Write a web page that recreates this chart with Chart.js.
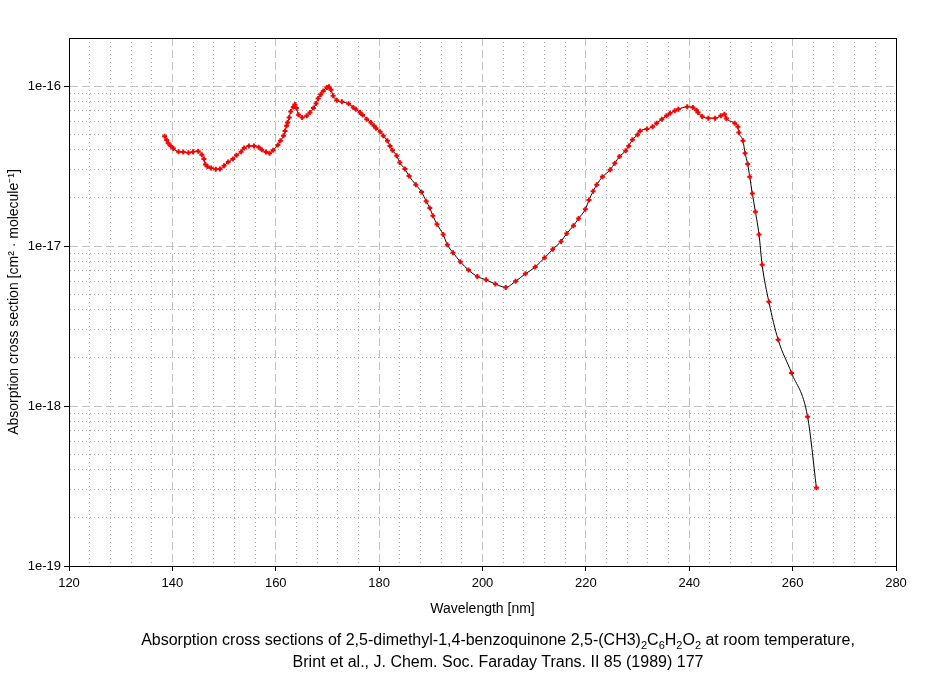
<!DOCTYPE html>
<html>
<head>
<meta charset="utf-8">
<title>2,5-dimethyl-1,4-benzoquinone cross sections</title>
<script src="https://cdn.jsdelivr.net/npm/chart.js@4.4.0/dist/chart.umd.min.js"></script>
<style>
  body { margin: 0; background: #fff; }
  #wrap { position: relative; width: 934px; height: 673px; }
  #caption {
    position: absolute; top: 629px; left: 498px; transform: translateX(-50%);
    white-space: nowrap; text-align: center; color: #000;
    font: 16px "Liberation Sans", Arial, sans-serif; line-height: 22px;
  }
  #caption sub { font-size: 11px; line-height: 0; }
</style>
</head>
<body>
<div id="wrap">
  <canvas id="myChart" width="934" height="673"></canvas>
  <div id="caption">
    Absorption cross sections of 2,5-dimethyl-1,4-benzoquinone 2,5-(CH3)<sub>2</sub>C<sub>6</sub>H<sub>2</sub>O<sub>2</sub> at room temperature,<br>
    Brint et al., J. Chem. Soc. Faraday Trans. II 85 (1989) 177
  </div>
</div>
<script>
// wavelength in nm
const wavelength = [
  138.5, 138.9, 139.2, 139.7, 140.2, 141.2, 142.1, 143.1, 144.0, 145.0,
  145.7, 146.1, 146.4, 146.8, 147.5, 148.4, 149.2, 150.0, 150.8, 151.7,
  152.4, 153.3, 153.9, 154.8, 155.8, 156.7, 157.3, 158.1, 158.8, 159.5,
  160.4, 160.9, 161.5, 161.8, 162.1, 162.3, 162.6, 162.9, 163.4, 163.7,
  164.0, 164.4, 165.1, 166.0, 166.6, 167.3, 167.8, 168.2, 168.7, 169.2,
  169.9, 170.3, 170.7, 171.1, 171.8, 172.8, 174.1, 175.0, 175.5, 176.3,
  176.8, 177.6, 178.4, 179.0, 179.4, 180.2, 180.8, 181.6, 182.1, 182.6,
  183.4, 184.0, 185.0, 185.8, 187.1, 188.2, 189.1, 189.8, 190.4, 191.2,
  192.4, 193.2, 194.3, 195.7, 197.3, 199.0, 200.7, 202.5, 204.5, 206.4,
  208.3, 210.2, 212.0, 213.6, 215.2, 216.3, 217.6, 218.6, 219.9, 220.6,
  221.4, 222.1, 223.2, 224.7, 225.6, 226.5, 227.7, 228.3, 229.0, 230.0,
  230.5, 231.8, 232.9, 233.7, 234.7, 235.6, 236.3, 237.2, 237.9, 239.6,
  240.7, 241.4, 241.7, 242.5, 243.7, 245.0, 246.1, 246.8, 247.2, 248.8,
  249.4, 249.6, 250.4, 250.8, 251.3, 251.7, 252.2, 252.8, 253.5, 254.1,
  255.4, 257.2, 259.8, 262.9, 264.6
]

// cross section in cm^2 molecule^-1
const crossSection = [
  4.87e-17, 4.6e-17, 4.4e-17, 4.23e-17, 4.07e-17, 3.89e-17, 3.88e-17, 3.83e-17, 3.89e-17, 3.92e-17,
  3.72e-17, 3.5e-17, 3.24e-17, 3.15e-17, 3.08e-17, 3.02e-17, 3.03e-17, 3.18e-17, 3.35e-17, 3.5e-17,
  3.7e-17, 3.89e-17, 4.1e-17, 4.23e-17, 4.23e-17, 4.15e-17, 4.0e-17, 3.87e-17, 3.8e-17, 3.98e-17,
  4.28e-17, 4.55e-17, 4.9e-17, 5.25e-17, 5.65e-17, 5.93e-17, 6.37e-17, 6.95e-17, 7.42e-17, 7.69e-17,
  7.3e-17, 6.62e-17, 6.37e-17, 6.52e-17, 6.84e-17, 7.3e-17, 7.8e-17, 8.38e-17, 8.87e-17, 9.34e-17,
  9.8e-17, 9.9e-17, 9.48e-17, 8.7e-17, 8.17e-17, 7.98e-17, 7.76e-17, 7.36e-17, 7.18e-17, 6.84e-17,
  6.6e-17, 6.22e-17, 5.93e-17, 5.65e-17, 5.46e-17, 5.19e-17, 4.9e-17, 4.55e-17, 4.23e-17, 3.98e-17,
  3.67e-17, 3.33e-17, 3.03e-17, 2.74e-17, 2.42e-17, 2.18e-17, 1.91e-17, 1.73e-17, 1.55e-17, 1.37e-17,
  1.18e-17, 1.02e-17, 9.1e-18, 7.98e-18, 7.08e-18, 6.45e-18, 6.15e-18, 5.79e-18, 5.52e-18, 6.03e-18,
  6.71e-18, 7.4e-18, 8.45e-18, 9.55e-18, 1.07e-17, 1.2e-17, 1.34e-17, 1.49e-17, 1.7e-17, 1.94e-17,
  2.2e-17, 2.42e-17, 2.71e-17, 3.0e-17, 3.3e-17, 3.63e-17, 3.94e-17, 4.23e-17, 4.62e-17, 4.97e-17,
  5.24e-17, 5.4e-17, 5.57e-17, 5.87e-17, 6.22e-17, 6.52e-17, 6.76e-17, 7.02e-17, 7.18e-17, 7.43e-17,
  7.36e-17, 7.08e-17, 6.84e-17, 6.46e-17, 6.31e-17, 6.3e-17, 6.52e-17, 6.68e-17, 6.28e-17, 5.87e-17,
  5.57e-17, 5.13e-17, 4.55e-17, 3.8e-17, 3.26e-17, 2.71e-17, 2.13e-17, 1.64e-17, 1.18e-17, 7.64e-18,
  4.49e-18, 2.6e-18, 1.61e-18, 8.57e-19, 3.09e-19
]

// axis ticks
const xLabelTicks = [120, 140, 160, 180, 200, 220, 240, 260, 280]
const yDecades = [1e-19, 1e-18, 1e-17, 1e-16]
const yMax = 2e-16

const isDecade = (v) => Math.abs(Math.log10(v) - Math.round(Math.log10(v))) < 1e-6
const isXMajor = (v) => xLabelTicks.includes(v)

const frameBox = {
  id: 'frameBox',
  beforeDatasetsDraw(chart) {
    const { ctx, chartArea: a } = chart
    ctx.save()
    ctx.strokeStyle = '#000'
    ctx.lineWidth = 1
    ctx.strokeRect(Math.round(a.left) + 0.5, Math.round(a.top) + 0.5, Math.round(a.right - a.left), Math.round(a.bottom - a.top))
    ctx.restore()
  }
}

Chart.defaults.color = '#000'
Chart.defaults.font.family = '"Liberation Sans", Arial, sans-serif'
Chart.defaults.font.size = 13

const points = wavelength.map((w, i) => ({ x: w, y: crossSection[i] }))

const config = {
  type: 'line',
  data: {
    datasets: [{
      label: '2,5-dimethyl-1,4-benzoquinone',
      data: points,
      borderColor: '#000',
      borderWidth: 1,
      cubicInterpolationMode: 'monotone',
      pointStyle: 'cross',
      pointRadius: 2.5,
      pointBorderWidth: 2,
      pointBorderColor: '#ff0000',
      pointBackgroundColor: '#ff0000'
    }]
  },
  options: {
    responsive: false,
    animation: false,
    layout: { padding: { top: 38, right: 38, bottom: 55, left: 0 } },
    plugins: { legend: { display: false }, tooltip: { enabled: false } },
    scales: {
      x: {
        type: 'linear',
        min: 120,
        max: 280,
        afterFit: (scale) => { scale.height = 52 },
        ticks: {
          stepSize: 4,
          autoSkip: false,
          maxRotation: 0,
          padding: 5,
          callback: (v) => isXMajor(v) ? String(v) : ''
        },
        grid: {
          color: (c) => c.tick && isXMajor(c.tick.value) ? '#c0c0c0' : '#a8a8a8',
          tickColor: (c) => c.tick && isXMajor(c.tick.value) ? '#000' : 'rgba(0,0,0,0)',
          tickLength: 5
        },
        border: {
          color: '#000',
          dash: (c) => c.tick && isXMajor(c.tick.value) ? [8, 4] : [1, 3]
        },
        title: { display: true, text: 'Wavelength [nm]', font: { size: 14 }, padding: { top: 0, bottom: 0 } }
      },
      y: {
        type: 'logarithmic',
        min: 1e-19,
        max: yMax,
        afterFit: (scale) => { scale.width = 69 },
        afterBuildTicks: (scale) => {
          const ticks = []
          yDecades.forEach(d => {
            for (let m = 1; m <= 9; m++) {
              const v = parseFloat((m * d).toPrecision(3))
              if (v <= yMax) ticks.push({ value: v })
            }
          })
          scale.ticks = ticks
        },
        ticks: {
          autoSkip: false,
          padding: 3,
          callback: (v) => isDecade(v) ? '1e' + Math.round(Math.log10(v)) : ''
        },
        grid: {
          color: (c) => c.tick && isDecade(c.tick.value) ? '#c0c0c0' : '#a8a8a8',
          tickColor: (c) => c.tick && isDecade(c.tick.value) ? '#000' : 'rgba(0,0,0,0)',
          tickLength: 5
        },
        border: {
          color: '#000',
          dash: (c) => c.tick && isDecade(c.tick.value) ? [8, 4] : [1, 3]
        },
        title: {
          display: true,
          text: 'Absorption cross section [cm\u00b2 \u00b7 molecule\u207b\u00b9]',
          font: { size: 14 },
          padding: { top: 6, bottom: 0 }
        }
      }
    }
  },
  plugins: [frameBox]
}

const myChart = new Chart(document.getElementById('myChart'), config)
</script>
</body>
</html>
